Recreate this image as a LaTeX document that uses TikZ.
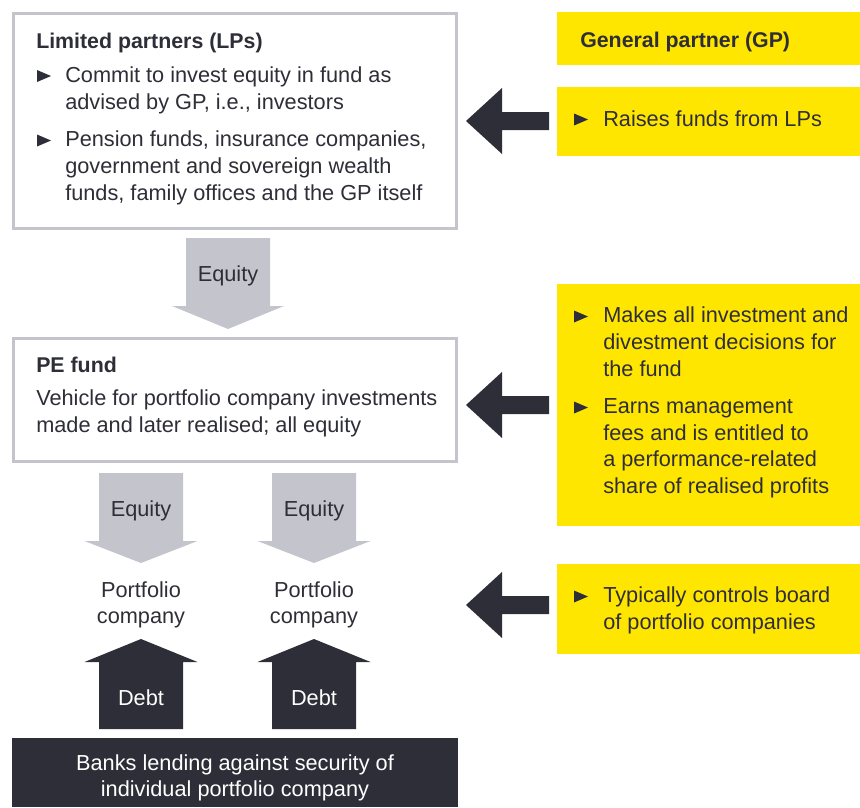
\documentclass[tikz,border=0pt]{standalone}
\usepackage{fontspec}
\setmainfont{Liberation Sans}
\definecolor{ink}{HTML}{2E2E38}
\definecolor{eyyellow}{HTML}{FFE600}
\definecolor{eygray}{HTML}{C4C4CD}
\newcommand\bodyfont{\fontsize{16.3}{19.9}\selectfont}
\newcommand\boldfont{\fontsize{16}{19.9}\selectfont\bfseries}
\newcommand\bulletmark[2]{\fill[ink] (#1,#2-0.5) -- (#1,#2-12.5) -- (#1+14,#2-6.5) -- cycle;}
\begin{document}
\begin{tikzpicture}[x=0.75pt,y=-0.75pt,
  outline/.style={draw=eygray,line width=1.9pt,fill=white},
  yellowbox/.style={fill=eyyellow},
  darkbox/.style={fill=ink},
  grayarrow/.style={fill=eygray},
  darkarrow/.style={fill=ink},
  bodytext/.style={inner sep=0pt,anchor=base west,align=left,font=\bodyfont,text=ink},
  titletext/.style={inner sep=0pt,anchor=base west,font=\boldfont,text=ink},
  arrowlabel/.style={inner sep=0pt,font=\bodyfont,text=ink,align=center}]
\useasboundingbox (0,0) rectangle (860,807);

% boxes
\draw[outline] (13.3,13.3) rectangle (456.7,228.7);
\draw[outline] (13.3,338.3) rectangle (456.7,461.7);
\fill[darkbox] (12,738) rectangle (458,807);
\fill[yellowbox] (557,12) rectangle (860,65);
\fill[yellowbox] (557,87) rectangle (860,156);
\fill[yellowbox] (557,284) rectangle (860,526);
\fill[yellowbox] (557,564) rectangle (860,654);

% LP text (base anchor = baseline of the last line)
\node[titletext] (lpt) at (36,48) {Limited partners (LPs)};
\bulletmark{37}{82.5}
\node[bodytext] (lp1) at (65,109) {Commit to invest equity in fund as\\advised by GP, i.e., investors};
\bulletmark{37}{147}
\node[bodytext] (lp2) at (65,200) {Pension funds, insurance companies,\\government and sovereign wealth\\funds, family offices and the GP itself};

% PE fund text
\node[titletext] (pet) at (36,372) {PE fund};
\node[bodytext] (peb) at (36,432.5) {Vehicle for portfolio company investments\\made and later realised; all equity};

% GP text
\node[titletext] (gpt) at (580,47) {General partner (GP)};
\bulletmark{574}{126}
\node[bodytext] (gp2) at (603,126) {Raises funds from LPs};
\bulletmark{574}{323}
\node[bodytext] (gp3a) at (603,376) {Makes all investment and\\divestment decisions for\\the fund};
\bulletmark{574}{414}
\node[bodytext] (gp3b) at (603,493.5) {Earns management\\fees and is entitled to\\a performance-related\\share of realised profits};
\bulletmark{574}{603}
\node[bodytext] (gp4) at (603,629.5) {Typically controls board\\of portfolio companies};

% left arrows
\fill[darkarrow] (549,112) -- (502,112) -- (502,88) -- (466,121) -- (502,154) -- (502,130) -- (549,130) -- cycle;
\fill[darkarrow] (549,396) -- (502,396) -- (502,372) -- (466,405) -- (502,438) -- (502,414) -- (549,414) -- cycle;
\fill[darkarrow] (549,596) -- (502,596) -- (502,572) -- (466,605) -- (502,638) -- (502,614) -- (549,614) -- cycle;

% equity arrow from LPs to fund
\fill[grayarrow] (186,238) -- (270,238) -- (270,306) -- (284,306) -- (228,329) -- (172,306) -- (186,306) -- cycle;
\node[arrowlabel] (eq0) at (228,275.5) {Equity};

% equity and debt arrows for the portfolio companies
\foreach \cx/\nm in {141/eqa,314/eqb}{
  \fill[grayarrow] (\cx-42,473) -- (\cx+42,473) -- (\cx+42,541) -- (\cx+56.5,541) -- (\cx,563) -- (\cx-56.5,541) -- (\cx-42,541) -- cycle;
  \node[arrowlabel] (\nm) at (\cx,510.5) {Equity};
  \fill[darkarrow] (\cx-42,729) -- (\cx+42,729) -- (\cx+42,662) -- (\cx+56.5,662) -- (\cx,639) -- (\cx-56.5,662) -- (\cx-42,662) -- cycle;
  \node[arrowlabel,text=white] (debt\nm) at (\cx,698) {Debt};
}
\node[arrowlabel] (pca) at (141,605) {Portfolio\\company};
\node[arrowlabel] (pcb) at (314,605) {Portfolio\\company};

% banks
\node[arrowlabel,text=white] (banks) at (235,778) {Banks lending against security of\\individual portfolio company};
\end{tikzpicture}
\end{document}
